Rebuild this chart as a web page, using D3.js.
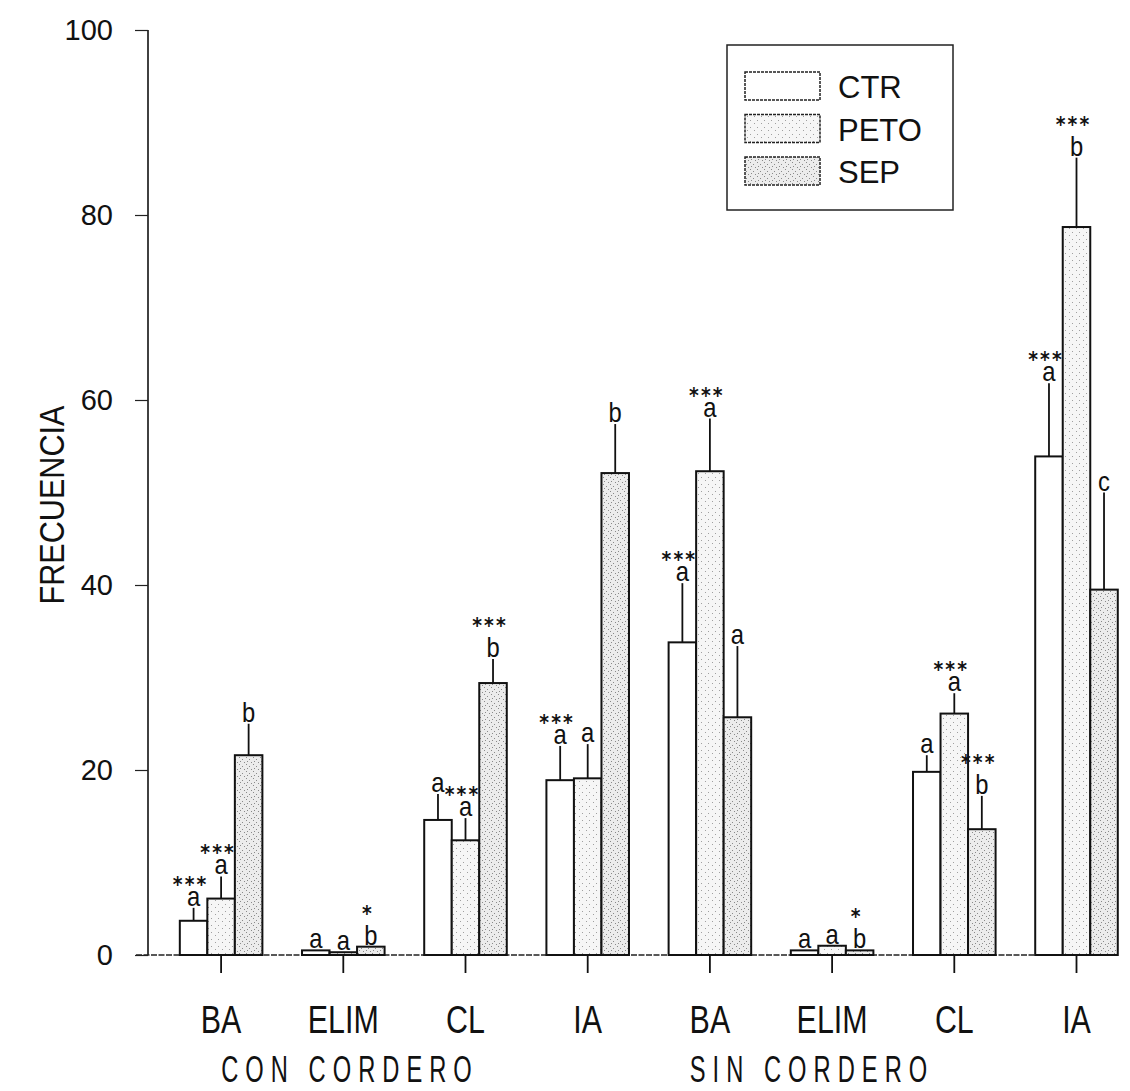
<!DOCTYPE html>
<html>
<head>
<meta charset="utf-8">
<script src="https://cdn.jsdelivr.net/npm/d3@7"></script>
<style>
  html, body { margin: 0; padding: 0; background: #fff; }
  svg { display: block; }
  text { fill: #111; }
</style>
</head>
<body>
<svg id="chart" width="1130" height="1091"></svg>
<script>
// ---- data ----
const categories = ["BA", "ELIM", "CL", "IA", "BA", "ELIM", "CL", "IA"];
const groups = ["CON CORDERO", "SIN CORDERO"];
const series = ["CTR", "PETO", "SEP"];
const ctrValues  = [3.7, 0.5, 14.6, 18.9, 33.8, 0.5, 19.8, 53.9];
const petoValues = [6.1, 0.3, 12.4, 19.1, 52.3, 1.0, 26.1, 78.7];
const sepValues  = [21.6, 0.9, 29.4, 52.1, 25.7, 0.5, 13.6, 39.5];
const ctrErr  = [1.4, 0, 2.8, 3.7, 6.4, 0, 1.8, 7.9];
const petoErr = [2.4, 0, 2.4, 3.7, 5.7, 0, 2.2, 7.5];
const sepErr  = [3.4, 0, 2.6, 5.3, 7.7, 0, 3.6, 10.5];
const ctrLetters  = ["a", "a", "a", "a", "a", "a", "a", "a"];
const petoLetters = ["a", "a", "a", "a", "a", "a", "a", "b"];
const sepLetters  = ["b", "b", "b", "b", "a", "b", "b", "c"];
const ctrStars  = ["***", "", "", "***", "***", "", "", "***"];
const petoStars = ["***", "", "***", "", "***", "", "***", "***"];
const sepStars  = ["", "*", "***", "", "", "*", "***", ""];
const yTicks = [0, 20, 40, 60, 80, 100];
const yLabel = "FRECUENCIA";

// ---- build table ----
const valuesBySeries = [ctrValues, petoValues, sepValues];
const errBySeries = [ctrErr, petoErr, sepErr];
const lettersBySeries = [ctrLetters, petoLetters, sepLetters];
const starsBySeries = [ctrStars, petoStars, sepStars];
const rows = [];
categories.forEach((c, i) => {
  series.forEach((s, j) => {
    rows.push({ idx: i, cat: c, series: s,
      value: valuesBySeries[j][i], err: errBySeries[j][i],
      letter: lettersBySeries[j][i], stars: starsBySeries[j][i] });
  });
});

const svg = d3.select("#chart");
const sans = "'Liberation Sans', Arial, Helvetica, sans-serif";
const condense = 0.8;

// patterns
const defs = svg.append("defs");
function stipple(id, bg, dot, pts) {
  const p = defs.append("pattern").attr("id", id).attr("patternUnits", "userSpaceOnUse")
    .attr("width", 7).attr("height", 7);
  p.append("rect").attr("width", 7).attr("height", 7).attr("fill", bg);
  pts.forEach(([x, y]) => p.append("rect").attr("x", x).attr("y", y).attr("width", 1).attr("height", 1).attr("fill", dot));
}
stipple("pPETO", "#f6f6f6", "#a0a0a0", [[1, 1], [5, 4]]);
stipple("pSEP", "#ececec", "#8a8a8a", [[1, 1], [4, 3], [2, 5], [6, 6]]);
const fills = { CTR: "#ffffff", PETO: "url(#pPETO)", SEP: "url(#pSEP)" };

// ---- scales ----
const y = d3.scaleLinear().domain([0, 100]).range([955, 30]);
const x = d3.scaleBand().domain(d3.range(categories.length)).range([160, 1137.6]).paddingInner(0).paddingOuter(0);
const xs = d3.scaleBand().domain(series).range([0, x.bandwidth()]).paddingOuter(0.72).paddingInner(0);

// ---- axes ----
const axisLeftX = 148;
const yAxis = svg.append("g").attr("transform", `translate(${axisLeftX},0)`)
  .call(d3.axisLeft(y).tickValues(yTicks).tickSize(13).tickPadding(22).tickFormat(d3.format("d")));
yAxis.select(".domain").attr("stroke", "#111").attr("stroke-width", 1.6).attr("d", `M0,${y(100)}V${y(0)}`);
yAxis.selectAll(".tick line").attr("stroke", "#222").attr("stroke-width", 1.2);
yAxis.selectAll(".tick text").attr("font-family", sans).attr("font-size", 29).attr("fill", "#111");

// x baseline
svg.append("line").attr("x1", 136).attr("x2", 1118).attr("y1", y(0)).attr("y2", y(0))
  .attr("stroke", "#222").attr("stroke-width", 1.6).attr("stroke-dasharray", "6,1.5");

const xAxis = svg.append("g").attr("transform", `translate(0,${y(0)})`)
  .call(d3.axisBottom(x).tickSize(18).tickPadding(33).tickFormat(i => categories[i]));
xAxis.select(".domain").remove();
xAxis.selectAll(".tick line").attr("stroke", "#111").attr("stroke-width", 1.8);
xAxis.selectAll(".tick text").attr("font-family", sans).attr("font-size", 38).attr("fill", "#111")
  .attr("transform", `scale(${condense},1)`);

// group labels
const groupX = [350, 812];
svg.selectAll("text.group").data(groups).join("text").attr("class", "group")
  .attr("transform", (d, i) => `translate(${groupX[i]},1082) scale(0.64,1)`)
  .attr("text-anchor", "middle")
  .attr("font-family", sans).attr("font-size", 37).attr("letter-spacing", 11)
  .text(d => d);

// y label
svg.append("text").attr("transform", `translate(64,505) rotate(-90) scale(0.85,1)`).attr("text-anchor", "middle")
  .attr("font-family", sans).attr("font-size", 36).text(yLabel);

// ---- bars ----
const bx = d => x(d.idx) + xs(d.series);
const bw = xs.bandwidth();
const g = svg.append("g");
g.selectAll("line.err").data(rows.filter(d => d.err > 0)).join("line").attr("class", "err")
  .attr("x1", d => bx(d) + bw / 2).attr("x2", d => bx(d) + bw / 2)
  .attr("y1", d => y(d.value)).attr("y2", d => y(d.value + d.err))
  .attr("stroke", "#111").attr("stroke-width", 1.8);
g.selectAll("rect.bar").data(rows).join("rect").attr("class", "bar")
  .attr("x", d => bx(d)).attr("width", bw)
  .attr("y", d => y(d.value)).attr("height", d => y(0) - y(d.value))
  .attr("fill", d => fills[d.series]).attr("stroke", "#111").attr("stroke-width", 2);

// annotations: stars stacked over the letter in one text element
const tall = l => (l === "b" ? 10 : 0);
const sx = 0.85;
const ann = g.selectAll("text.ann").data(rows).join("text").attr("class", "ann")
  .attr("transform", d => `translate(${bx(d) + bw / 2},${y(d.value + d.err) - 2}) scale(${sx},1)`)
  .attr("text-anchor", "middle").attr("font-family", sans).attr("font-size", 28);
ann.filter(d => d.stars).append("tspan")
  .attr("x", -3 / sx).attr("y", d => -14 - tall(d.letter))
  .attr("font-family", "'DejaVu Sans', sans-serif").attr("font-weight", "bold")
  .attr("font-size", 22).attr("letter-spacing", 2.5)
  .text(d => d.stars);
ann.append("tspan").attr("x", 0).attr("y", 0).text(d => d.letter);

// ---- legend ----
const leg = svg.append("g");
leg.append("rect").attr("x", 727).attr("y", 45).attr("width", 226).attr("height", 165)
  .attr("fill", "#fff").attr("stroke", "#222").attr("stroke-width", 1.5);
const legY = d3.scalePoint().domain(series).range([86, 171]);
leg.selectAll("rect.sw").data(series).join("rect").attr("class", "sw")
  .attr("x", 745).attr("y", d => legY(d) - 14).attr("width", 75).attr("height", 28)
  .attr("fill", d => fills[d]).attr("stroke", "#222").attr("stroke-width", 1.5).attr("stroke-dasharray", "3,1");
leg.selectAll("text.lt").data(series).join("text").attr("class", "lt")
  .attr("x", 838).attr("y", d => legY(d) + 12).attr("font-family", sans).attr("font-size", 31)
  .text(d => d);
</script>
</body>
</html>
